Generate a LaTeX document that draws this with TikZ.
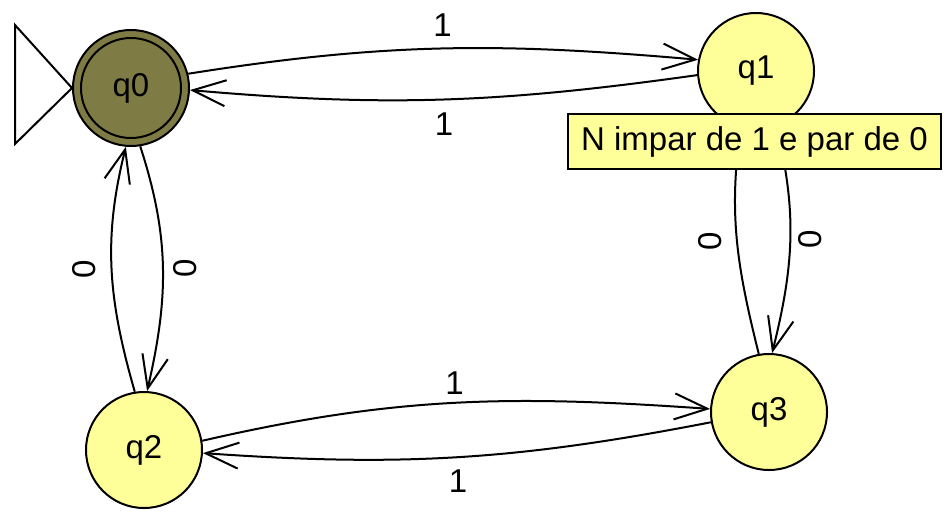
\documentclass[tikz,border=0pt]{standalone}
\usepackage{fontspec}
\setmainfont{Liberation Sans}
\usetikzlibrary{arrows.meta}
\definecolor{stateyellow}{RGB}{255,255,153}
\definecolor{finalolive}{RGB}{127,123,68}
\begin{document}
\begin{tikzpicture}[x=1pt,y=-1pt,
  txt/.style={font=\fontsize{33}{40}\selectfont},
  state/.style={circle,draw=black,line width=2pt,fill=stateyellow,minimum size=116pt,inner sep=0pt,txt},
  edge/.style={line width=2pt,-{Straight Barb[length=33pt,width=26pt]}},
  lbl/.style={txt,inner sep=0pt},
  notebox/.style={rectangle,draw=black,line width=2pt,fill=stateyellow,minimum width=373pt,minimum height=55pt,inner sep=0pt,txt}]
\useasboundingbox (0,0) rectangle (944,512);
\node[state,fill=finalolive] (q0) at (131,88) {q0};
\draw[line width=2pt] (q0.center) circle[radius=50pt];
\node[state] (q1) at (756,71) {q1};
\node[state] (q2) at (144,450) {q2};
\node[state] (q3) at (769,412) {q3};
% initial marker
\draw[line width=2pt] (15,25) -- (q0.west) -- (15,144) -- cycle;
% q0 <-> q1
\draw[edge] (q0.14) to[out=9,in=175] node[lbl,midway,yshift=23.5pt] (l01) {1} (q1.169);
\draw[edge] (q1.184) to[out=188,in=-5] node[lbl,midway,yshift=-25pt] (l10) {1} (q0.-2);
% q2 <-> q3
\draw[edge] (q2.9) to[out=13,in=176] node[lbl,midway,yshift=19.5pt] (l23) {1} (q3.177);
\draw[edge] (q3.190) to[out=191,in=-4] node[lbl,midway,yshift=-24.5pt] (l32) {1} (q2.-3);
% q0 <-> q2
\draw[edge] (q2.99) to[out=106,in=256] node[lbl,midway,xshift=-28pt,rotate=90] (l20) {0} (q0.265);
\draw[edge] (q0.279) to[out=288,in=77] node[lbl,midway,xshift=22pt,rotate=90] (l02) {0} (q2.87);
% q1 <-> q3
\draw[edge] (q3.100) to[out=104,in=262] node[lbl,midway,xshift=-27pt,rotate=90] (l31) {0} (q1.255);
\draw[edge] (q1.290) to[out=284,in=76] node[lbl,midway,xshift=20pt,rotate=90] (l13) {0} (q3.87);
% note
\node[notebox] (note) at (754.5,141.5) {N impar de 1 e par de 0};
\end{tikzpicture}
\end{document}
